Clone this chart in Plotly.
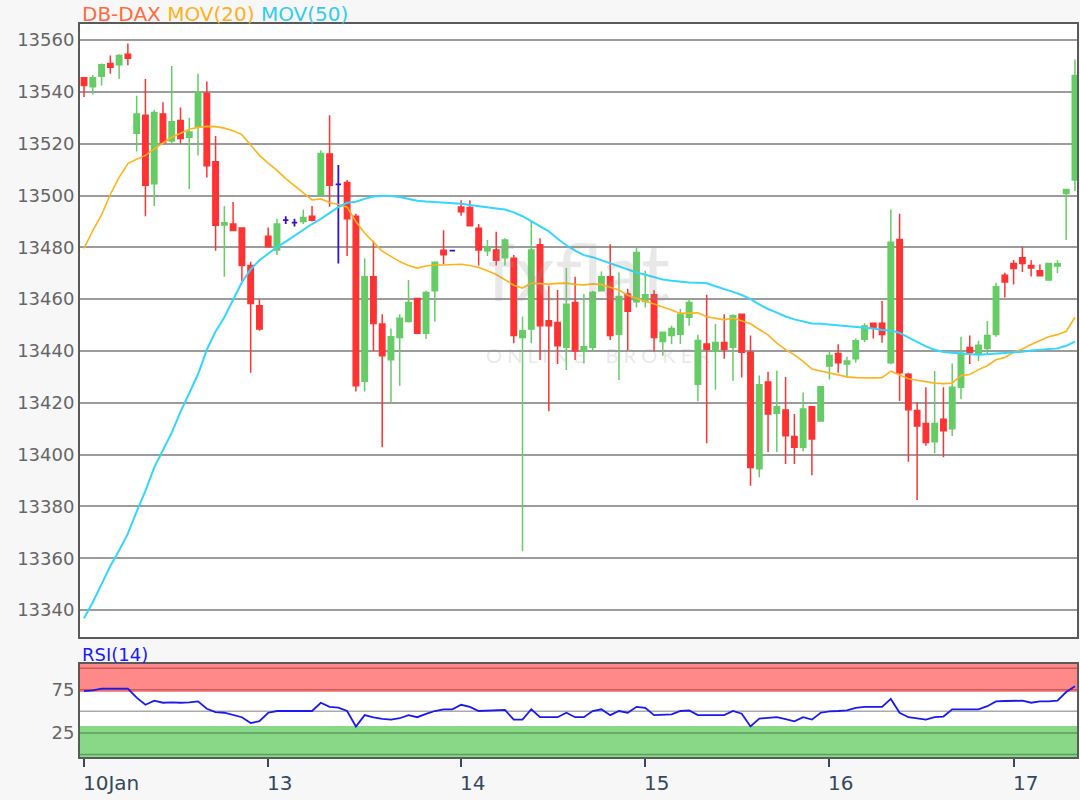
import plotly.graph_objects as go

# ---------------- data (hourly candles) ----------------
opens = [13545.5, 13542, 13546, 13551, 13550.5, 13554.5, 13524, 13531, 13504.5, 13531.5,
         13521, 13529, 13522.5, 13526.5, 13539.5, 13513, 13488.6, 13489, 13487.5, 13473,
         13457.5, 13484.3, 13479, 13490.5, 13489.5, 13490, 13492, 13500.2, 13516, 13504.3,
         13505, 13492, 13428.3, 13468.6, 13450.4, 13436.6, 13445.2, 13451.4, 13460.3, 13446.8,
         13463.2, 13478.9, 13478.7, 13495.6, 13495.4, 13487.4, 13478.7, 13479, 13476, 13475.8,
         13445.2, 13448.5, 13481, 13451.7, 13451, 13441.4, 13458.7, 13440, 13441.4, 13463.2,
         13468.6, 13446.5, 13462, 13459, 13459.1, 13461.7, 13443.7, 13446, 13446.5, 13453,
         13427.2, 13442.7, 13440, 13443.3, 13441.4, 13454.2, 13439.5, 13394.5, 13428, 13416,
         13417.2, 13407, 13402.8, 13418.5, 13413, 13434.2, 13439, 13435, 13437, 13444.5,
         13450.7, 13450.7, 13435.5, 13483, 13431, 13417, 13412, 13405, 13413.6, 13410,
         13426, 13441.3, 13438.7, 13441, 13446.4, 13469.2, 13473.8, 13476, 13473, 13471,
         13467.4, 13472.8, 13500.8, 13506]
highs = [13545.5, 13546.5, 13551, 13554, 13554.5, 13558.7, 13538.5, 13545, 13533, 13536,
         13550, 13534, 13530, 13547, 13544, 13523, 13496, 13497.5, 13487.5, 13474.4,
         13460, 13487.7, 13491, 13492, 13491, 13494.5, 13496, 13517.5, 13531, 13511.8,
         13506, 13493, 13475.8, 13482.5, 13454.2, 13448.7, 13454.2, 13467.4, 13460.5, 13463.2,
         13474.5, 13486.6, 13478.7, 13498.2, 13498.2, 13489, 13482.8, 13486, 13483.5, 13477,
         13453.3, 13490.2, 13483.5, 13465.2, 13463.5, 13472, 13468.6, 13462, 13463.2, 13470.7,
         13481.2, 13470.3, 13464, 13480, 13471, 13463.5, 13447.5, 13449.7, 13456.2, 13460,
         13446.3, 13461.7, 13450.4, 13454.2, 13454.2, 13454.5, 13446, 13430.5, 13432, 13432.4,
         13430, 13415.7, 13424, 13418.7, 13426.5, 13440, 13442.6, 13437.8, 13444.8, 13450.7,
         13451, 13459.3, 13494.6, 13493, 13431.6, 13420.3, 13426, 13432.3, 13426, 13435.2,
         13445.5, 13446, 13443.9, 13451.6, 13466.3, 13470.2, 13475.1, 13480.2, 13475, 13473.4,
         13474, 13475, 13502.5, 13552.5]
lows = [13538, 13539, 13542.5, 13547, 13545, 13550.3, 13517, 13492, 13496, 13520,
        13520, 13520, 13502.5, 13515.5, 13507, 13478.7, 13468.6, 13486.4, 13467, 13431.6,
        13447.8, 13480, 13477, 13489, 13488, 13489, 13490, 13500, 13495.7, 13473.8,
        13476.7, 13424.4, 13424.4, 13440, 13402.8, 13420, 13426.6, 13451, 13446.5, 13444.6,
        13451.4, 13473.5, 13478.7, 13492.2, 13488, 13473, 13476.7, 13473, 13473, 13443,
        13362.7, 13443, 13436.5, 13416.7, 13435, 13432.7, 13436.5, 13435.2, 13439.8, 13463,
        13444.2, 13428.8, 13440.4, 13456.8, 13456.8, 13439.8, 13438.2, 13442.7, 13442.7, 13449.7,
        13420.6, 13404.4, 13425, 13437, 13428.5, 13429.8, 13388, 13391.3, 13401, 13401,
        13396.4, 13396.4, 13401.3, 13392, 13413, 13429, 13431.6, 13429.7, 13435.5, 13443.5,
        13444.8, 13443.2, 13434.9, 13420.7, 13397.2, 13382.5, 13403.4, 13400.5, 13399, 13407.2,
        13421.4, 13435, 13436, 13438.7, 13445.5, 13460.6, 13465.7, 13470.5, 13468.7, 13468.9,
        13467.4, 13470, 13482.8, 13501.7]
closes = [13542.5, 13545.5, 13550.5, 13549.5, 13554, 13553, 13531.5, 13504, 13532, 13520.5,
          13528.5, 13522, 13524.5, 13540, 13511.5, 13488.5, 13489.5, 13486.5, 13473, 13458.3,
          13448.5, 13480.2, 13489, 13490.5, 13489.5, 13491.5, 13490.5, 13516.2, 13504, 13504.3,
          13491, 13426.6, 13468.6, 13450.6, 13438.2, 13445.5, 13452.6, 13458.7, 13446.8, 13462.6,
          13474.2, 13477.1, 13478.7, 13493.7, 13488.3, 13479, 13480, 13475, 13482.8, 13446,
          13447.8, 13479, 13449.7, 13449.7, 13442, 13458, 13440, 13441.6, 13462.6, 13468.6,
          13446, 13461, 13455.3, 13478, 13461.7, 13445.2, 13447.2, 13448.7, 13454.2, 13458.7,
          13444, 13440.7, 13443.3, 13440.7, 13453.6, 13439.5, 13395, 13427, 13415.7, 13418.5,
          13407.3, 13402.8, 13417.6, 13406, 13426.2, 13438.3, 13435.5, 13436.1, 13443.9, 13449.6,
          13449, 13446.4, 13482, 13431.6, 13417.3, 13411, 13404.7, 13412, 13409.2, 13426,
          13439.1, 13439.4, 13442.2, 13446, 13464.8, 13466.6, 13471.8, 13473.8, 13472, 13469,
          13473.8, 13473.7, 13502.3, 13546.3]

ma20 = [13479.6, 13486.5, 13492.5, 13500.5, 13507, 13512.3, 13514, 13515.5, 13518, 13520.3,
        13522.5, 13524, 13525.6, 13526.3, 13526.7, 13526.6, 13526, 13525, 13523.5, 13519.5,
        13515.5, 13512.5, 13509.7, 13506.5, 13503.8, 13501, 13498.3, 13498.7, 13497.3, 13496.5,
        13495.5, 13490, 13485.5, 13482, 13478.5, 13476.5, 13474.5, 13473, 13472, 13472.8,
        13473.2, 13473.2, 13473.3, 13473.5, 13473, 13472.2, 13471, 13469.5, 13467.5, 13465.4,
        13464.3, 13466.2, 13466, 13465.8, 13466.1, 13466.2, 13465.7, 13465.5, 13465.9, 13465.6,
        13464.6, 13463.5, 13461.5, 13460.5, 13459.2, 13458.1, 13457.1, 13455.8, 13454.5, 13454.7,
        13454.7, 13453.2, 13452.6, 13452, 13452.7, 13451.6, 13450.5, 13448.3, 13446.2, 13443,
        13440.5, 13438.5, 13436, 13433, 13432.3, 13431.5, 13430.8, 13430, 13429.7, 13429.6,
        13429.6, 13429.7, 13432.2, 13430.7, 13429.3, 13428.7, 13428.2, 13427.6, 13427.4, 13427.6,
        13430.5, 13430.9, 13432.8, 13434.3, 13436.6, 13437.5, 13439.5, 13440.8, 13442.5, 13444,
        13445.5, 13446.3, 13447.6, 13453]
ma50 = [13336.8, 13343, 13350, 13357, 13363, 13369.5, 13378, 13386, 13395, 13402,
        13408.5, 13416.5, 13424, 13431, 13440.5, 13447.5, 13453, 13459.5, 13466.5, 13471.5,
        13475, 13477.5, 13480.1, 13482.2, 13484.5, 13486.7, 13489, 13491, 13493.3, 13495.5,
        13497.2, 13497.6, 13498.7, 13499.6, 13499.8, 13499.8, 13499.4, 13498.7, 13498, 13497.7,
        13497.5, 13497.2, 13497, 13496.8, 13496.3, 13495.8, 13495.4, 13495, 13494.6, 13493.5,
        13492, 13490, 13488.2, 13486.2, 13483.3, 13480.8, 13478.7, 13477, 13476.2, 13475,
        13473.6, 13472.5, 13471.4, 13470.3, 13469.4, 13468.5, 13467.6, 13467.1, 13466.7, 13466.4,
        13466.3, 13466.1, 13465, 13464, 13462.8, 13461.6, 13460, 13458, 13456.2, 13454.8,
        13453.3, 13452.2, 13451.3, 13450.6, 13450.5, 13450.2, 13449.7, 13449.4, 13449.2, 13449,
        13448.7, 13448.1, 13447.9, 13447, 13445.2, 13443.5, 13441.8, 13440.5, 13439.6, 13439.3,
        13439, 13438.7, 13438.5, 13438.7, 13438.9, 13439.2, 13439.3, 13439.7, 13440.2, 13440.5,
        13440.7, 13441, 13442, 13443.6]
rsi14 = [73.6, 74.4, 76.4, 76.4, 76.4, 76.4, 66, 57.6, 62.4, 60,
         60.5, 60, 60.5, 61.6, 53, 49, 48.4, 46, 43.2, 36.4,
         38.5, 48.4, 50.4, 50.4, 50.4, 50.4, 50.4, 60, 55.2, 54.4,
         50.4, 32.4, 45.6, 43, 41.2, 40.4, 42, 45.6, 43.2, 47,
         50.4, 52.4, 52.4, 57.6, 55.2, 50.4, 51, 51.6, 51.6, 40.4,
         40.4, 52.4, 43.2, 43.2, 43.2, 48.4, 43.2, 43.2, 50.4, 52.4,
         45.6, 50.4, 48.4, 55.2, 54, 45.6, 46, 46.4, 50.4, 51,
         45.6, 45.6, 45.6, 45.6, 50.4, 47.2, 32.4, 41.6, 42.5, 43.2,
         41, 38.4, 43.2, 40.4, 48.4, 50, 50.4, 51.2, 54, 55.2,
         55.2, 55.2, 64.4, 48.4, 43.2, 41.5, 40.4, 43.2, 44, 52.4,
         52.4, 52.4, 52.4, 56, 61.6, 62, 62, 62.4, 60, 61.5,
         61.5, 62.4, 72.4, 79.2]

day_tick_index = [0, 21, 43, 64, 85, 106]
day_tick_labels = ["10Jan", "13", "14", "15", "16", "17"]
price_ticks = [13340, 13360, 13380, 13400, 13420, 13440, 13460, 13480, 13500, 13520, 13540, 13560]
rsi_ticks = [25, 75]

# ---------------- figure ----------------
GREEN = "#66cc66"
RED = "#ff3333"
BLUE = "#3311cc"
FONT = "DejaVu Sans"

xs = list(range(len(opens)))
norm = [i for i in xs if opens[i] != closes[i]]
doji = [i for i in xs if opens[i] == closes[i]]

fig = go.Figure()

fig.add_trace(go.Candlestick(
    x=norm,
    open=[opens[i] for i in norm], high=[highs[i] for i in norm],
    low=[lows[i] for i in norm], close=[closes[i] for i in norm],
    increasing=dict(line=dict(color=GREEN, width=1.5), fillcolor=GREEN),
    decreasing=dict(line=dict(color=RED, width=1.5), fillcolor=RED),
    xaxis="x", yaxis="y", hoverinfo="skip", showlegend=False))

fig.add_trace(go.Candlestick(
    x=doji,
    open=[opens[i] for i in doji], high=[highs[i] for i in doji],
    low=[lows[i] for i in doji], close=[closes[i] for i in doji],
    increasing=dict(line=dict(color=BLUE, width=1.8), fillcolor=BLUE),
    decreasing=dict(line=dict(color=BLUE, width=1.8), fillcolor=BLUE),
    xaxis="x", yaxis="y", hoverinfo="skip", showlegend=False))

fig.add_trace(go.Scatter(x=xs, y=ma20, mode="lines", line=dict(color="#ffb31a", width=1.6),
                         xaxis="x", yaxis="y", hoverinfo="skip", showlegend=False))
fig.add_trace(go.Scatter(x=xs, y=ma50, mode="lines", line=dict(color="#33d6ff", width=2),
                         xaxis="x", yaxis="y", hoverinfo="skip", showlegend=False))
fig.add_trace(go.Scatter(x=xs, y=rsi14, mode="lines", line=dict(color="#1a1aee", width=1.8),
                         xaxis="x2", yaxis="y2", hoverinfo="skip", showlegend=False))

XR = [-0.46, 113.23]
FRAME = "#5a5a5a"

shapes = [
    dict(type="rect", xref="x2 domain", yref="y2", x0=0, x1=1, y0=72.5, y1=105,
         fillcolor="#ff8888", line=dict(width=0), layer="below"),
    dict(type="rect", xref="x2 domain", yref="y2", x0=0, x1=1, y0=-3, y1=33,
         fillcolor="#88d888", line=dict(width=0), layer="below"),
]
for lvl, col in [(100, "#c85a5a"), (75, "#c85a5a"), (50, "#aaaaaa"), (25, "#5a9f5a"), (0, "#5a9f5a")]:
    shapes.append(dict(type="line", xref="x2 domain", yref="y2", x0=0, x1=1, y0=lvl, y1=lvl,
                       line=dict(color=col, width=1.5), layer="below"))

annotations = [
    dict(xref="paper", yref="paper", x=0.0, y=1.0136, xanchor="left", yanchor="middle",
         showarrow=False, font=dict(family=FONT, size=20),
         text="<span style='color:#ff6a3d'>DB-DAX</span> "
              "<span style='color:#ffb020'>MOV(20)</span> "
              "<span style='color:#33ccf0'>MOV(50)</span>"),
    dict(xref="paper", yref="paper", x=0.0, y=0.1392, xanchor="left", yanchor="middle",
         showarrow=False, font=dict(family=FONT, size=18, color="#1a1aff"), text="RSI(14)"),
    # faint watermark
    dict(xref="paper", yref="paper", x=0.50, y=0.665, xanchor="center", yanchor="middle",
         showarrow=False, font=dict(family="Lato", size=80, color="rgba(150,150,150,0.22)"),
         text="fxflat"),
    dict(xref="paper", yref="paper", x=0.52, y=0.548, xanchor="center", yanchor="middle",
         showarrow=False, font=dict(family="Lato", size=20, color="rgba(150,150,150,0.22)"),
         text="O N L I N E    B R O K E R"),
]
for idx, lab in zip(day_tick_index, day_tick_labels):
    annotations.append(dict(xref="x2", yref="paper", x=idx, y=-0.036, xanchor="left",
                            yanchor="middle", xshift=-3, showarrow=False,
                            font=dict(family=FONT, size=20, color="#34495e"), text=lab))

fig.update_layout(
    width=1080, height=800,
    paper_bgcolor="#f7f7f7", plot_bgcolor="white",
    margin=dict(l=80, r=3, t=24, b=43, autoexpand=False),
    showlegend=False, boxgap=0.12, boxmode="overlay",
    xaxis=dict(domain=[0, 1], range=XR, anchor="y", showgrid=False, zeroline=False,
               showticklabels=False, ticks="", showline=True, mirror=True, automargin=False,
               linecolor=FRAME, linewidth=2, rangeslider=dict(visible=False)),
    yaxis=dict(domain=[0.1637, 1], range=[13329.6, 13566.2], tickvals=price_ticks,
               tickformat="d", automargin=False,
               showgrid=True, gridcolor="#9c9c9c", gridwidth=1.5, zeroline=False,
               showline=True, mirror=True, linecolor=FRAME, linewidth=2, ticks="",
               tickfont=dict(family=FONT, size=18, color="#666666")),
    xaxis2=dict(domain=[0, 1], range=XR, anchor="y2", showgrid=False, zeroline=False,
                tickvals=day_tick_index, showticklabels=False, ticks="outside",
                ticklen=8, tickwidth=2, tickcolor="#34495e", automargin=False,
                showline=True, mirror=True, linecolor=FRAME, linewidth=2),
    yaxis2=dict(domain=[0, 0.1269], range=[-3, 105], tickvals=rsi_ticks, showgrid=False,
                zeroline=False, showline=True, mirror=True, linecolor=FRAME, linewidth=2,
                ticks="", automargin=False,
                tickfont=dict(family=FONT, size=18, color="#666666")),
    shapes=shapes, annotations=annotations,
)

fig.write_html(
    "out.html",
    config={"displayModeBar": False},
    post_script="document.body.style.margin='0';document.body.style.overflow='hidden';",
)
